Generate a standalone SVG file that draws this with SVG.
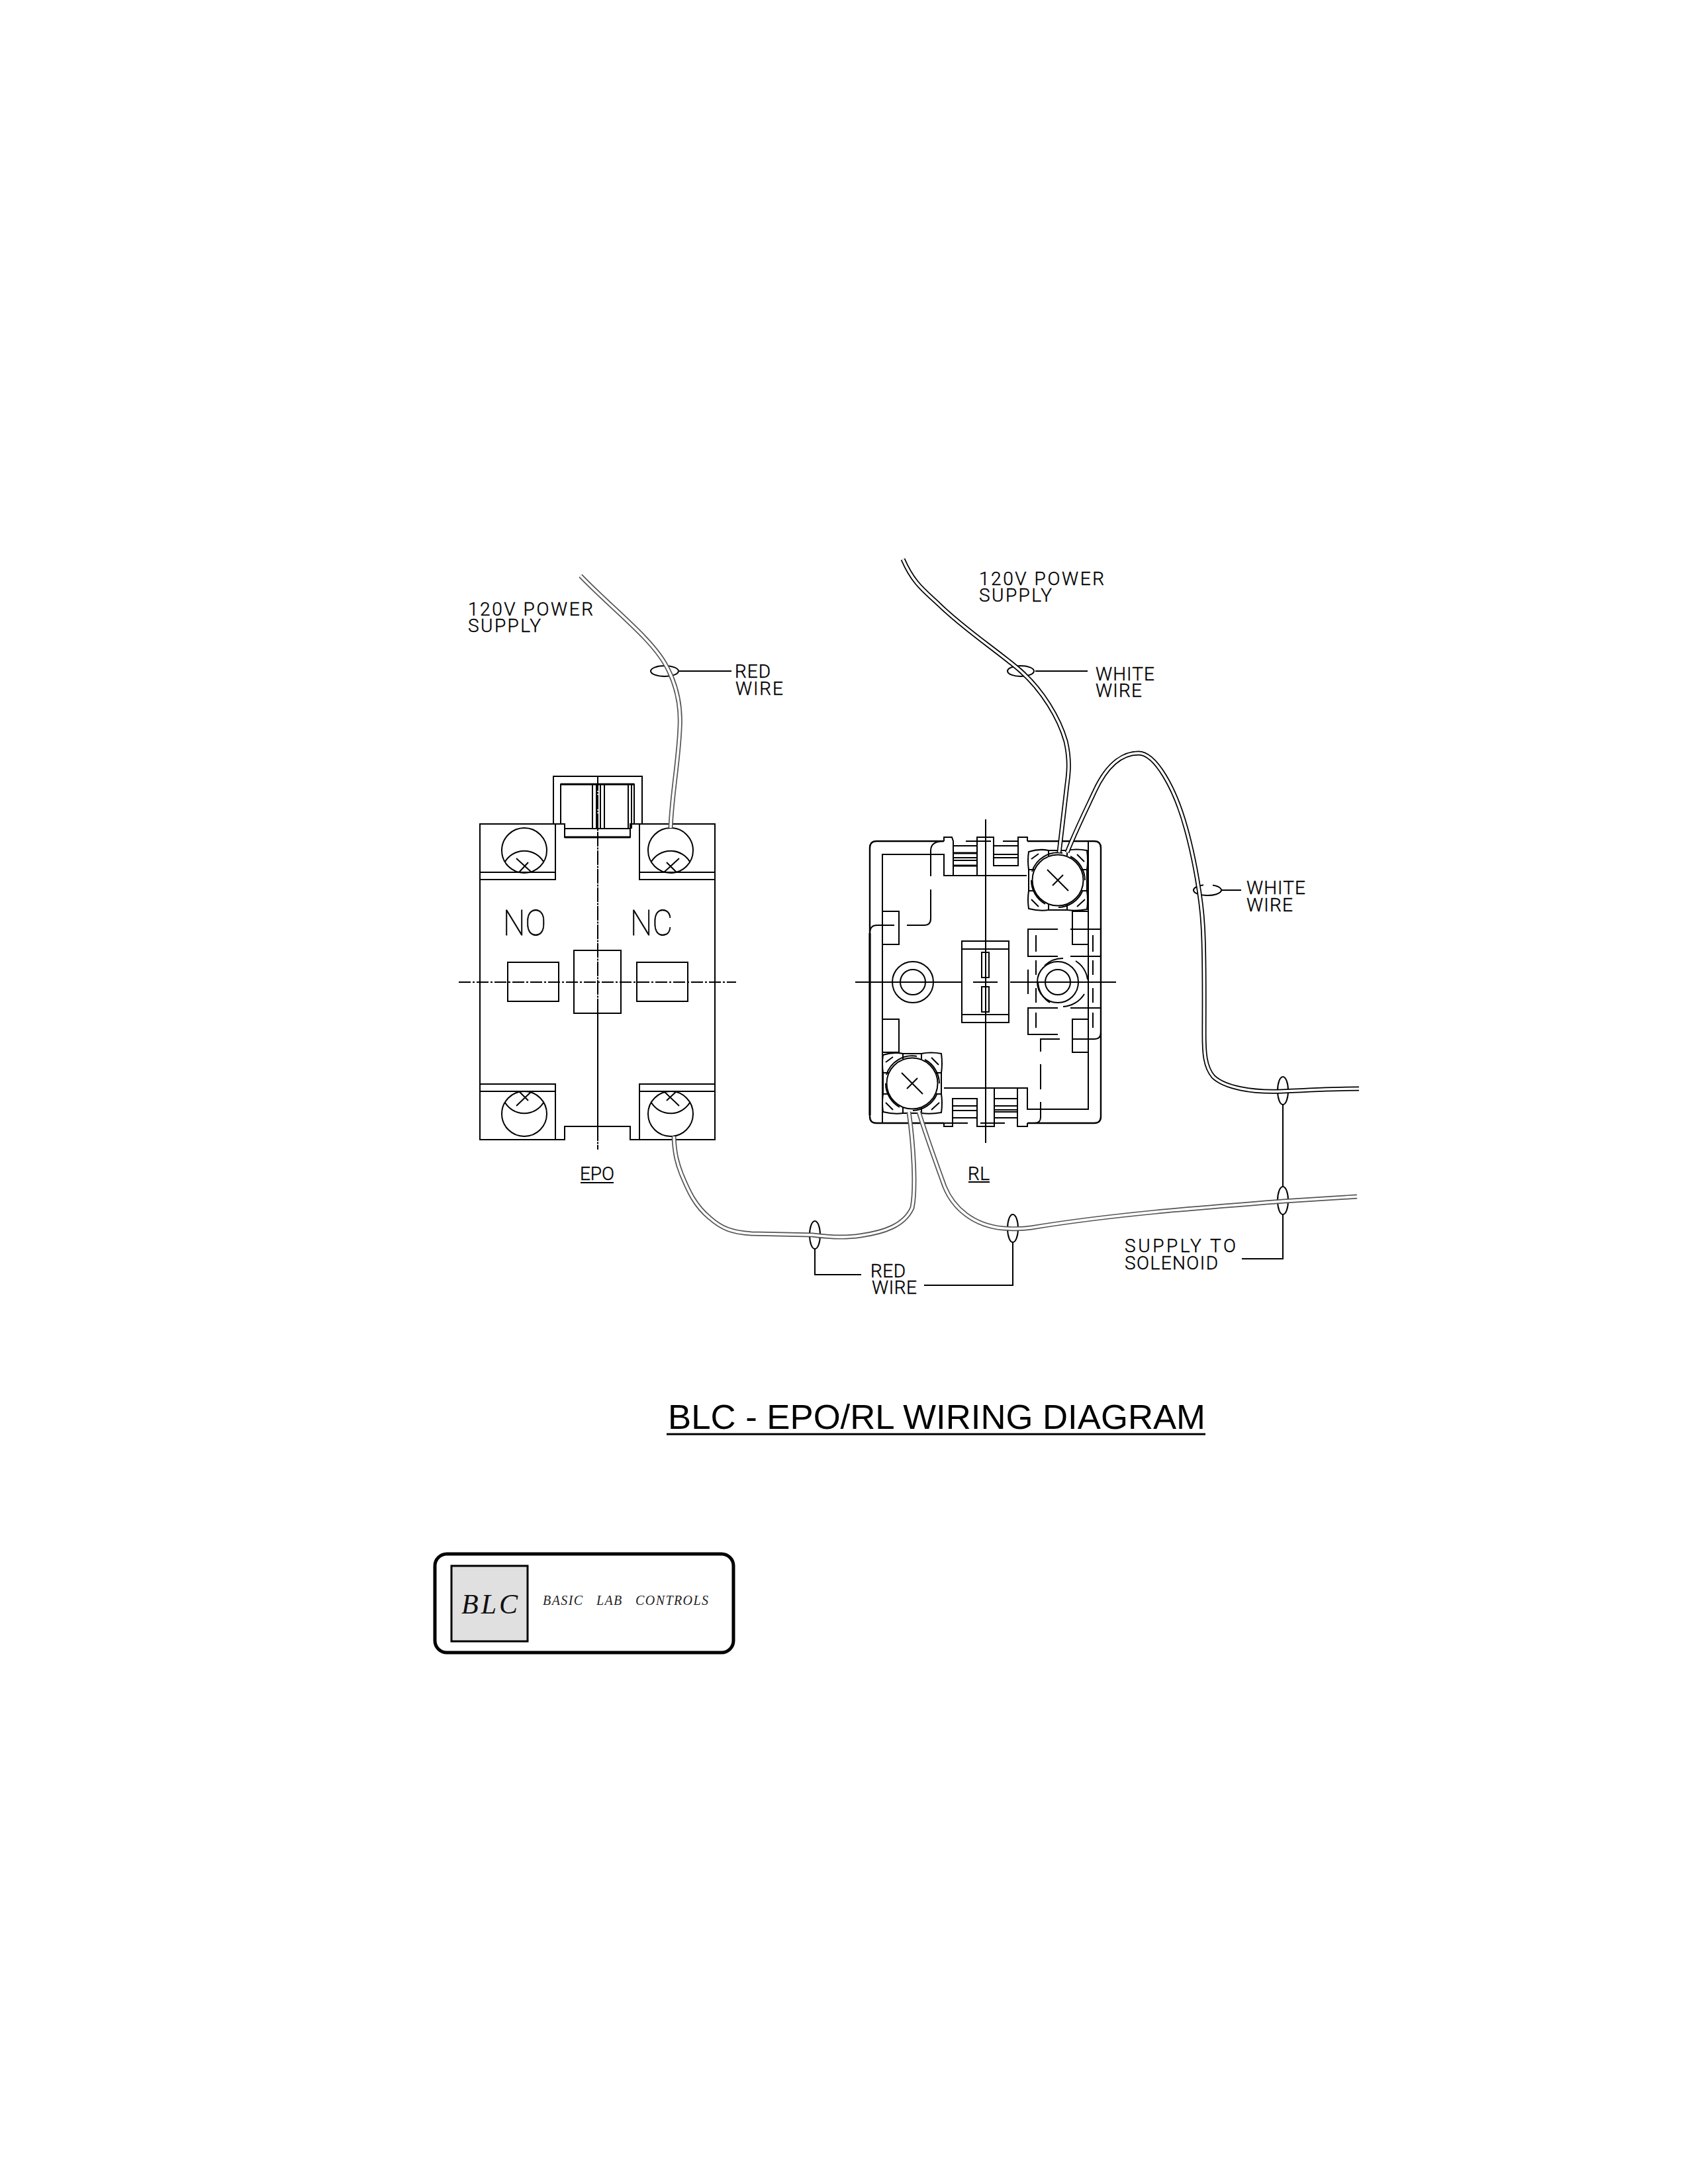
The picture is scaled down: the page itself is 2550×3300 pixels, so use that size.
<svg xmlns="http://www.w3.org/2000/svg" xmlns:xlink="http://www.w3.org/1999/xlink" width="2550" height="3300" viewBox="0 0 2550 3300">
<style>
.l{fill:none;stroke:#000;stroke-width:2}
.h{fill:none;stroke:#000;stroke-width:3}
.o{fill:none;stroke:#000;stroke-width:2.4}
.c{fill:none;stroke:#000;stroke-width:2;stroke-dasharray:18 3 3 3}
.v{fill:none;stroke:#000;stroke-width:2;stroke-dasharray:22 1.500 3 1.500}
.wo{fill:none;stroke:#000;stroke-width:7}
.wr{fill:none;stroke:#555;stroke-width:7}
.wi{fill:none;stroke:#fff;stroke-width:3.6}
.t{font-family:"Roboto","Liberation Sans",sans-serif;font-weight:300;font-size:28px;fill:#000;stroke:#000;stroke-width:.4}
.b{font-size:54px;font-weight:100;stroke-width:.8}
</style>
<defs>
<g id="term" class="l">
<circle cx="0" cy="0" r="34"/>
<path d="M-29 17A34 34 0 0 1 29 17"/>
</g>
<g id="screw" class="l">
<path d="M-14 -45Q-28 -48 -44 -43Q-46 -30 -44 -16V16Q-46 30 -44 43Q-28 47 -14 45H14Q28 47 44 44Q46 30 44 16V-16Q46 -30 44 -45Q28 -48 14 -45H-14"/>
<path d="M-14 -45V-37M14 -45V-37M-14 45V37M14 45V37M-44 -16H-36M-44 16H-36M44 -16H36M44 16H36"/>
<circle r="38.500"/>
<path d="M-40 0A41 41 0 0 0 -19 36M-39 -13A41 41 0 0 1 7 -41M19 -36A41 41 0 0 1 41 0M37 17A41 41 0 0 1 1 41"/>
<path d="M-40 -32L-29 -40M29 -39L40 -28M-40 29L-29 40M29 40L41 29"/>
<path d="M-16 -16L16 16M8 -8L-8 8"/>
</g>
</defs>
<rect width="2550" height="3300" fill="#fff"/>

<g id="epo">
<path class="l" d="M725 1245H839V1318H725ZM725 1318V1638M725 1329H839V1318M966 1245H1080V1318H966ZM1080 1318V1638M966 1318V1329H1080"/>
<path class="l" d="M725 1638H839V1722H725ZM725 1649H839M966 1638H1080V1722H966ZM966 1649H1080"/>
<path class="l" d="M836 1245V1173H970V1245M847 1245V1185H958V1245"/>
<path class="l" d="M839 1245H853V1265H952V1245H966M853 1252H952M895 1185V1252M901 1185V1252M907 1185V1252M913 1185V1252M949 1185V1252M954 1185V1252"/>
<path class="h" d="M847 1185H958M853 1265H952"/>
<path class="l" d="M839 1722H853V1702H952V1722H966"/>
<use xlink:href="#term" href="#term" x="792" y="1285"/>
<use xlink:href="#term" href="#term" x="1013" y="1285"/>
<use xlink:href="#term" href="#term" transform="translate(792 1683) scale(1 -1)"/>
<use xlink:href="#term" href="#term" transform="translate(1013 1683) scale(1 -1)"/>
<path class="l" d="M780 1297L803 1318M798 1303L784 1318M1026 1297L1003 1318M1007 1303L1022 1318M780 1671L803 1649M798 1663L784 1649M1026 1671L1003 1649M1007 1663L1022 1649"/>
<rect class="l" x="767" y="1454" width="77" height="59"/>
<rect class="l" x="962" y="1454" width="77" height="59"/>
<rect class="l" x="867" y="1436" width="71" height="95"/>
<path class="c" d="M693 1484H1112"/>
<path class="v" d="M903 1173V1530M903 1702V1737"/>
<path class="l" d="M903 1530V1702"/>
<text class="t b" x="760" y="1413" textLength="65" lengthAdjust="spacingAndGlyphs">NO</text>
<text class="t b" x="952" y="1413" textLength="64" lengthAdjust="spacingAndGlyphs">NC</text>
<text class="t" x="876" y="1783" textLength="52">EPO</text>
<path class="l" d="M877 1787H927"/>
</g>

<g id="rl">
<path class="o" d="M1426 1271H1324Q1314 1271 1314 1281V1687Q1314 1697 1324 1697H1426M1552 1271H1653Q1663 1271 1663 1281V1687Q1663 1697 1653 1697H1552"/>
<path class="h" d="M1314 1410V1685"/>
<path class="l" d="M1459 1271H1497M1515 1271H1538M1426 1697H1462M1481 1697H1518"/>
<path class="l" d="M1333 1697V1291H1426V1323H1551"/>
<path class="l" d="M1426 1271V1265H1438L1440 1271V1323M1476 1323V1265H1501V1308H1538V1265H1552V1271"/>
<path class="l" d="M1440 1278H1476M1440 1296H1476M1440 1300H1476M1501 1278H1538M1501 1291H1538M1501 1296H1538"/>
<path class="h" d="M1440 1289H1476M1440 1308H1476"/>
<path class="l" d="M1426 1271Q1406 1271 1406 1285V1324M1406 1344V1388Q1406 1398 1396 1398H1370M1351 1398H1325Q1314 1398 1314 1410"/>
<path class="l" d="M1333 1377H1358V1427H1333M1333 1540H1358V1590H1333"/>
<circle class="l" cx="1379" cy="1484" r="31"/>
<circle class="l" cx="1379" cy="1484" r="19"/>
<circle class="l" cx="1598" cy="1484" r="31"/>
<circle class="l" cx="1598" cy="1484" r="19"/>
<path class="l" d="M1578 1459A40 40 0 0 1 1606 1448M1625 1452A40 40 0 0 1 1643 1480M1638 1502A40 40 0 0 1 1606 1521M1568 1484A40 40 0 0 0 1586 1515"/>
<path class="l" d="M1453 1545V1422H1524V1545ZM1453 1434H1524M1453 1533H1524"/>
<rect class="l" x="1483" y="1439" width="11" height="38"/>
<rect class="l" x="1483" y="1491" width="11" height="38"/>
<path class="l" d="M1489 1238V1727M1292 1484H1452M1470 1484H1507M1526 1484H1686"/>
<path class="l" d="M1644 1271V1676H1552V1644H1426"/>
<path class="l" d="M1644 1377H1620V1427H1644M1644 1540H1620V1590H1644"/>
<path class="l" d="M1598 1404H1553V1445H1598M1617 1404H1663M1617 1445H1663M1598 1523H1553V1563H1598M1617 1523H1663M1620 1570H1653Q1663 1570 1663 1560"/>
<path class="l" d="M1565 1413V1438M1565 1451V1473M1565 1493V1515M1565 1530V1553M1651 1413V1438M1651 1451V1473M1651 1493V1515M1651 1530V1553M1553 1465V1502"/>
<path class="l" d="M1601 1570H1572V1589M1572 1608V1646M1572 1665V1688Q1572 1697 1563 1697"/>
<path class="l" d="M1426 1697V1702H1439V1660H1476V1702H1502V1644M1537 1644V1702H1552V1697M1439 1671H1476M1439 1678H1476M1439 1689H1476M1502 1660H1537M1502 1671H1537M1502 1677H1537M1502 1680H1537M1502 1689H1537"/>
<use xlink:href="#screw" href="#screw" x="1598" y="1330"/>
<use xlink:href="#screw" href="#screw" x="1378" y="1637"/>
<text class="t" x="1462" y="1783" textLength="33">RL</text>
<path class="l" d="M1463 1786H1495"/>
</g>

<g id="connectors">
<g id="leaders" class="l">
<ellipse cx="1004" cy="1014" rx="21" ry="8"/>
<path d="M1026 1014H1105"/>
<ellipse cx="1542" cy="1014" rx="20" ry="8"/>
<path d="M1564 1014H1643"/>
<path d="M1832 1337.600A21 8 0 0 1 1824 1353A21 8 0 0 1 1803 1345A21 8 0 0 1 1818 1337.300"/>
<path d="M1845 1345H1875"/>
<ellipse cx="1231" cy="1866" rx="8" ry="21"/>
<path d="M1231 1887V1926H1301"/>
<ellipse cx="1530" cy="1856" rx="8" ry="21"/>
<path d="M1396 1942H1530V1877"/>
<ellipse cx="1938" cy="1814" rx="8" ry="21"/>
<ellipse cx="1938" cy="1648" rx="8" ry="21"/>
<path d="M1938 1669V1793M1938 1835V1902H1876"/>
</g>
<g id="red-wires">
<path class="wr" d="M877 870C925 920 985 965 1007 1007C1022 1035 1029 1065 1027 1100C1025 1150 1015 1200 1013 1251"/>
<path class="wi" d="M877 870C925 920 985 965 1007 1007C1022 1035 1029 1065 1027 1100C1025 1150 1015 1200 1013 1251"/>
<path class="wr" d="M1018 1717C1019 1745 1024 1760 1029 1773C1040 1800 1050 1822 1072 1840C1090 1856 1105 1862 1135 1864L1227 1866C1250 1869 1275 1871 1300 1867C1335 1862 1366 1852 1378 1825C1384 1795 1380 1730 1373 1680"/>
<path class="wi" d="M1018 1717C1019 1745 1024 1760 1029 1773C1040 1800 1050 1822 1072 1840C1090 1856 1105 1862 1135 1864L1227 1866C1250 1869 1275 1871 1300 1867C1335 1862 1366 1852 1378 1825C1384 1795 1380 1730 1373 1680"/>
<path class="wr" d="M1388 1680C1397 1710 1415 1760 1427 1793C1440 1825 1470 1852 1516 1856C1530 1857 1545 1857 1558 1855C1680 1835 1810 1825 1939 1815L2050 1808"/>
<path class="wi" d="M1388 1680C1397 1710 1415 1760 1427 1793C1440 1825 1470 1852 1516 1856C1530 1857 1545 1857 1558 1855C1680 1835 1810 1825 1939 1815L2050 1808"/>
</g>
<g id="white-wires">
<path class="wo" d="M1364 845C1380 882 1397 893 1418 913C1458 952 1505 982 1541 1013C1575 1043 1600 1085 1610 1120C1617 1150 1614 1170 1612 1185L1600 1288"/>
<path class="wi" d="M1364 845C1380 882 1397 893 1418 913C1458 952 1505 982 1541 1013C1575 1043 1600 1085 1610 1120C1617 1150 1614 1170 1612 1185L1600 1288"/>
<path class="wo" d="M1612 1288C1625 1255 1640 1225 1654 1195C1675 1150 1700 1138 1720 1138C1745 1138 1775 1190 1792 1253C1805 1300 1815 1360 1817 1397C1820 1440 1819 1520 1819 1563C1819 1590 1820 1612 1833 1627C1850 1643 1890 1651 1937 1649C1975 1647 2015 1645 2053 1645"/>
<path class="wi" d="M1612 1288C1625 1255 1640 1225 1654 1195C1675 1150 1700 1138 1720 1138C1745 1138 1775 1190 1792 1253C1805 1300 1815 1360 1817 1397C1820 1440 1819 1520 1819 1563C1819 1590 1820 1612 1833 1627C1850 1643 1890 1651 1937 1649C1975 1647 2015 1645 2053 1645"/>
</g>
</g>

<g id="labels">
<text class="t" x="707" y="930" textLength="189">120V POWER</text>
<text class="t" x="707" y="955" textLength="110">SUPPLY</text>
<text class="t" x="1110" y="1024" textLength="54">RED</text>
<text class="t" x="1111" y="1050" textLength="72">WIRE</text>
<text class="t" x="1479" y="884" textLength="189">120V POWER</text>
<text class="t" x="1479" y="909" textLength="110">SUPPLY</text>
<text class="t" x="1655" y="1028" textLength="89">WHITE</text>
<text class="t" x="1655" y="1053" textLength="70">WIRE</text>
<text class="t" x="1883" y="1351" textLength="89">WHITE</text>
<text class="t" x="1883" y="1377" textLength="70">WIRE</text>
<text class="t" x="1315" y="1930" textLength="53">RED</text>
<text class="t" x="1317" y="1955" textLength="68">WIRE</text>
<text class="t" x="1699" y="1892" textLength="168">SUPPLY TO</text>
<text class="t" x="1699" y="1918" textLength="141">SOLENOID</text>
</g>

<g id="title">
<text x="1009" y="2159" font-family="'Liberation Sans',Arial,sans-serif" font-size="52" textLength="812" lengthAdjust="spacingAndGlyphs">BLC - EPO/RL WIRING DIAGRAM</text>
<rect x="1007" y="2165.500" width="814" height="3"/>
</g>

<g id="logo">
<rect x="657" y="2348" width="451" height="149" rx="18" fill="#fff" stroke="#000" stroke-width="5"/>
<rect x="682" y="2366" width="115" height="114" fill="#e0e0e0" stroke="#000" stroke-width="3"/>
<text x="697" y="2438" font-family="'Liberation Serif',serif" font-style="italic" font-size="42" textLength="85" fill="#111">BLC</text>
<text x="820" y="2425" font-family="'Liberation Serif',serif" font-style="italic" font-size="20" word-spacing="13" textLength="250" fill="#222">BASIC LAB CONTROLS</text>
</g>
</svg>
